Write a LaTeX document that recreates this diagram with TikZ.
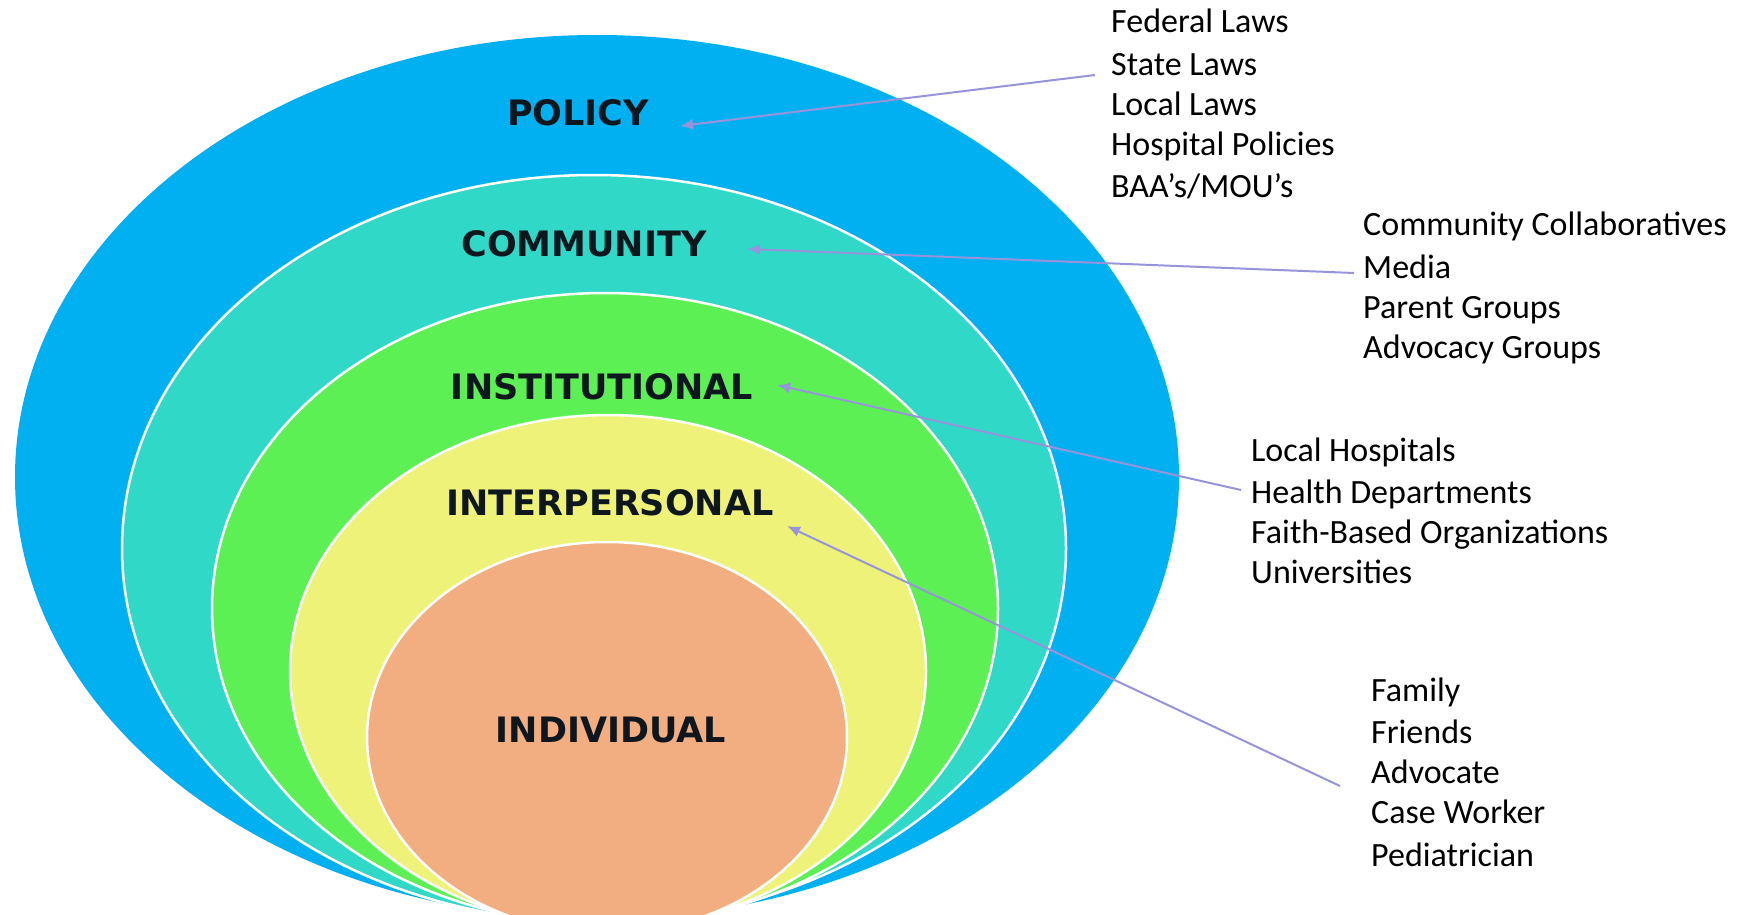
\documentclass[tikz,border=0pt]{standalone}
\usepackage{fontspec}
\setmainfont{Carlito}
\newfontfamily\lblfont{DejaVu Sans}
\usetikzlibrary{arrows.meta}
\definecolor{cblue}{RGB}{0,176,240}
\definecolor{cteal}{RGB}{48,216,200}
\definecolor{cgreen}{RGB}{92,240,84}
\definecolor{cyellow}{RGB}{238,242,120}
\definecolor{corange}{RGB}{242,174,128}
\definecolor{carrow}{RGB}{152,148,220}
\definecolor{clbl}{RGB}{14,22,30}
\tikzset{
  ring/.style={draw=white, line width=2.5pt},
  lvl/.style={font=\lblfont\bfseries\fontsize{35}{40}\selectfont, text=clbl, inner sep=0pt},
  item/.style={font=\fontsize{34}{40}\selectfont, anchor=base west, inner sep=0pt},
  conn/.style={carrow, line width=2pt, -{Latex[length=13pt,width=11pt]}}
}
\begin{document}
\begin{tikzpicture}[x=1pt,y=-1pt]
\useasboundingbox (0,0) rectangle (1737,915);
\fill[white] (0,0) rectangle (1737,915);
% nested ellipses
\fill[cblue] (597,477) ellipse [x radius=582, y radius=442];
\filldraw[fill=cteal, ring] (594,548.5) ellipse [x radius=472, y radius=373.5];
\filldraw[fill=cgreen, ring] (605,608.6) ellipse [x radius=393, y radius=315.6];
\filldraw[fill=cyellow, ring] (608,671) ellipse [x radius=318, y radius=256];
\filldraw[fill=corange, ring] (607,737.5) ellipse [x radius=240, y radius=195.5];
% level labels
\node[lvl] (policy) at (578,113) {POLICY};
\node[lvl] (community) at (584,244) {COMMUNITY};
\node[lvl] (institutional) at (602,387) {INSTITUTIONAL};
\node[lvl] (interpersonal) at (610,503) {INTERPERSONAL};
\node[lvl] (individual) at (611,730) {INDIVIDUAL};
% lists
\node[item] (a1) at (1111,33) {Federal Laws};
\node[item] (a2) at (1111,76) {State Laws};
\node[item] (a3) at (1111,116) {Local Laws};
\node[item] (a4) at (1111,156) {Hospital Policies};
\node[item] (a5) at (1111,197) {BAA’s/MOU’s};
\node[item] (b1) at (1363,235) {Community Collaboratives};
\node[item] (b2) at (1363,278) {Media};
\node[item] (b3) at (1363,318) {Parent Groups};
\node[item] (b4) at (1363,358) {Advocacy Groups};
\node[item] (c1) at (1251,461) {Local Hospitals};
\node[item] (c2) at (1251,503) {Health Departments};
\node[item] (c3) at (1251,543) {Faith-Based Organizations};
\node[item] (c4) at (1251,583) {Universities};
\node[item] (d1) at (1371,701) {Family};
\node[item] (d2) at (1371,743) {Friends};
\node[item] (d3) at (1371,783) {Advocate};
\node[item] (d4) at (1371,823) {Case Worker};
\node[item] (d5) at (1371,866) {Pediatrician};
% connector ends
\coordinate (s1) at (1095,75);
\coordinate (t1) at (680,126);
\coordinate (s2) at (1354,273);
\coordinate (t2) at (747,249);
\coordinate (s3) at (1241,490);
\coordinate (t3) at (777,385);
\coordinate (s4) at (1340,786);
\coordinate (t4) at (787,526);
\draw[conn] (s1) -- (t1);
\draw[conn] (s2) -- (t2);
\draw[conn] (s3) -- (t3);
\draw[conn] (s4) -- (t4);
\end{tikzpicture}
\end{document}
